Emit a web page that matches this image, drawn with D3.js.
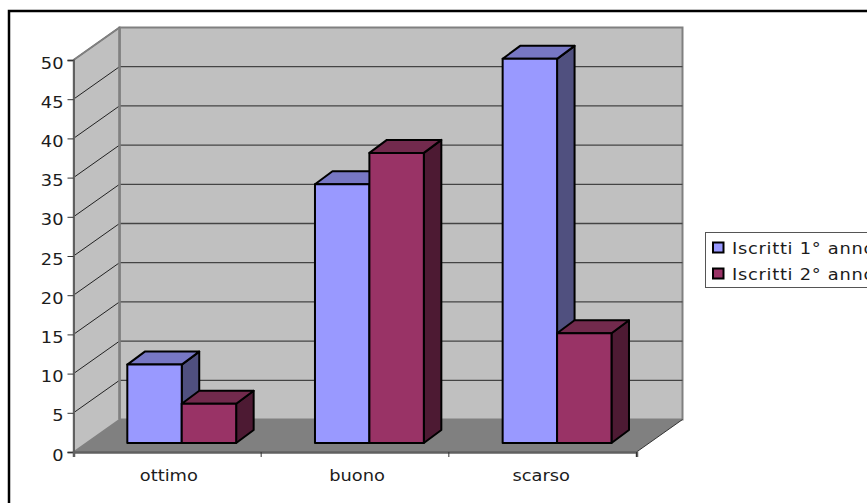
<!DOCTYPE html>
<html>
<head>
<meta charset="utf-8">
<script src="https://cdn.jsdelivr.net/npm/d3@7"></script>
<style>
html,body{margin:0;padding:0;background:#fff;overflow:hidden}
svg{display:block}
text{font-family:"DejaVu Sans",sans-serif;fill:#1c1c1c;font-size:15px}
</style>
</head>
<body>
<script>
const categories = ["ottimo", "buono", "scarso"];
const seriesNames = ["Iscritti 1° anno", "Iscritti 2° anno"];
const firstYear = [10, 33, 49];
const secondYear = [5, 37, 14];
const yTicks = [0, 5, 10, 15, 20, 25, 30, 35, 40, 45, 50];

const frontColors = ["#9999ff", "#993366"];
const topColors = ["#7777c4", "#722a4d"];
const sideColors = ["#50507f", "#4d1a33"];

const width = 867, height = 503;
const plot = {left: 73.5, right: 636.5, top: 60, bottom: 452};
const depth = {x: 46, y: -32.5};      // wall offset of the 3D box
const barDepth = {x: 17.5, y: -13};   // extrusion of each column
const barInset = {x: 12.9, y: -9};    // columns sit partway into the floor
const textStretch = 1.19;
const labelNudge = [1.5, 2, -1.5];    // optical centring of the category names

const svg = d3.select("body").append("svg").attr("width", width).attr("height", height);

const x = d3.scaleBand().domain(categories).range([plot.left, plot.right]);
const y = d3.scaleLinear().domain([0, 50]).range([plot.bottom, plot.top]);
const xSeries = d3.scaleBand().domain([0, 1])
  .range([0, x.step() * 0.58]);

const poly = pts => pts.map(p => p.join(",")).join(" ");

// Outer frame: only top and left edges fall inside the view
svg.append("path").attr("d", `M9,${height}V11H${width}`)
  .attr("fill", "none").attr("stroke", "#000").attr("stroke-width", 2.5);

// Floor
svg.append("polygon")
  .attr("points", poly([[plot.left, plot.bottom], [plot.right, plot.bottom],
    [plot.right + depth.x, plot.bottom + depth.y], [plot.left + depth.x, plot.bottom + depth.y]]))
  .attr("fill", "#808080");

// Back wall
const backLeft = plot.left + depth.x, backRight = plot.right + depth.x;
svg.append("rect")
  .attr("x", backLeft).attr("y", plot.top + depth.y)
  .attr("width", backRight - backLeft).attr("height", plot.bottom - plot.top)
  .attr("fill", "#c0c0c0").attr("stroke", "#808080").attr("stroke-width", 2);

// Side wall
svg.append("polygon")
  .attr("points", poly([[plot.left, plot.top], [backLeft, plot.top + depth.y],
    [backLeft, plot.bottom + depth.y], [plot.left, plot.bottom]]))
  .attr("fill", "#c0c0c0").attr("stroke", "#808080").attr("stroke-width", 1.5);

// Gridlines across the side and back walls
const grid = svg.append("g");
yTicks.slice(1).forEach(t => {
  grid.append("line")
    .attr("x1", plot.left).attr("y1", y(t))
    .attr("x2", backLeft).attr("y2", y(t) + depth.y)
    .attr("stroke", "#222").attr("stroke-width", 1);
  if (t < 50) grid.append("line")
    .attr("x1", backLeft).attr("y1", y(t) + depth.y)
    .attr("x2", backRight).attr("y2", y(t) + depth.y)
    .attr("stroke", "#444").attr("stroke-width", 1.3);
});
svg.append("line").attr("x1", backLeft).attr("x2", backLeft)
  .attr("y1", plot.top + depth.y).attr("y2", plot.bottom + depth.y)
  .attr("stroke", "#808080").attr("stroke-width", 2.5);
svg.append("line").attr("x1", plot.left).attr("y1", plot.top)
  .attr("x2", backLeft).attr("y2", plot.top + depth.y)
  .attr("stroke", "#808080").attr("stroke-width", 2);
svg.append("line").attr("x1", plot.right).attr("y1", plot.bottom)
  .attr("x2", backRight).attr("y2", plot.bottom + depth.y)
  .attr("stroke", "#333").attr("stroke-width", 1);

// Axes
const yAxis = svg.append("g").attr("transform", `translate(${plot.left},0)`)
  .call(d3.axisLeft(y).tickValues(yTicks).tickSize(6).tickPadding(4));
const xAxis = svg.append("g").attr("transform", `translate(0,${plot.bottom})`)
  .call(d3.axisBottom(x).tickSize(5).tickPadding(0));
yAxis.select(".domain").attr("stroke", "#606060").attr("stroke-width", 2);
xAxis.select(".domain").attr("stroke", "#606060").attr("stroke-width", 2.5);
yAxis.selectAll(".tick line").attr("stroke", "#333");
xAxis.selectAll(".tick line").attr("stroke", "#333")
  .attr("x1", x.step() / 2).attr("x2", x.step() / 2);
yAxis.selectAll(".tick text")
  .style("font-size", "15px")
  .attr("x", 0)
  .attr("transform", `translate(-10,3.2) scale(${textStretch},1)`);
xAxis.selectAll(".tick text")
  .style("font-size", "15px")
  .attr("y", 0).attr("dy", 0)
  .attr("transform", (d, i) => `translate(${labelNudge[i]},29) scale(${textStretch},1)`);

// Columns
const seriesValues = [firstYear, secondYear];
const bars = svg.append("g").attr("stroke", "#000").attr("stroke-width", 2).attr("stroke-linejoin", "round");
categories.forEach((c, i) => {
  const start = x(c) + x.step() * 0.218 + barInset.x;
  seriesValues.forEach((vals, s) => {
    const x0 = start + xSeries(s), x1 = x0 + xSeries.bandwidth();
    const yTop = y(vals[i]) + barInset.y, yBase = y(0) + barInset.y;
    const dx = barDepth.x, dy = barDepth.y;
    bars.append("polygon").attr("fill", sideColors[s])
      .attr("points", poly([[x1, yTop], [x1 + dx, yTop + dy], [x1 + dx, yBase + dy], [x1, yBase]]));
    bars.append("polygon").attr("fill", topColors[s])
      .attr("points", poly([[x0, yTop], [x0 + dx, yTop + dy], [x1 + dx, yTop + dy], [x1, yTop]]));
    bars.append("rect").attr("fill", frontColors[s])
      .attr("x", x0).attr("y", yTop).attr("width", x1 - x0).attr("height", yBase - yTop);
  });
});

// Legend, running off the right edge of the view
const legend = svg.append("g");
legend.append("rect").attr("x", 705.5).attr("y", 232.5).attr("width", 180).attr("height", 55)
  .attr("fill", "#fff").attr("stroke", "#555").attr("stroke-width", 1);
seriesNames.forEach((name, s) => {
  const ly = 242.5 + s * 26;
  legend.append("rect").attr("x", 713).attr("y", ly).attr("width", 10.5).attr("height", 10)
    .attr("fill", frontColors[s]).attr("stroke", "#000").attr("stroke-width", 2);
  legend.append("text").text(name)
    .attr("transform", `translate(732,${ly + 11}) scale(${textStretch},1)`)
    .style("letter-spacing", "0.6px");
});
</script>
</body>
</html>
